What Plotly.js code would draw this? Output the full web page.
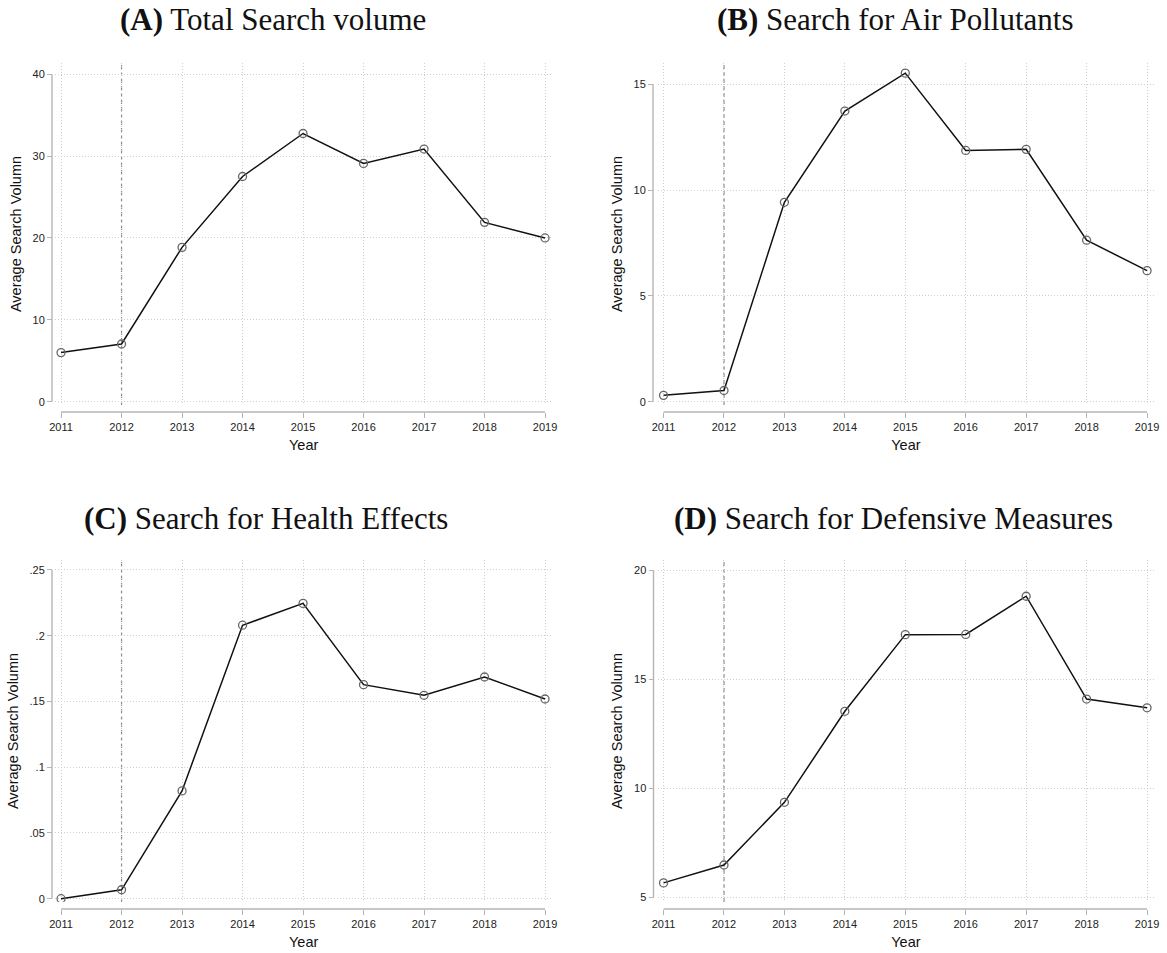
<!DOCTYPE html>
<html>
<head>
<meta charset="utf-8">
<script src="https://cdn.plot.ly/plotly-3.0.1.min.js"></script>
<style>html,body{margin:0;padding:0;background:#fff;}#chart{width:1167px;height:953px;}</style>
</head>
<body>
<div id="chart"></div>
<script>
// ---- data ----
const years = [2011, 2012, 2013, 2014, 2015, 2016, 2017, 2018, 2019];
const totalSearch = [6.0, 7.05, 18.85, 27.5, 32.75, 29.1, 30.85, 21.9, 20.0];
const airPollutants = [0.30, 0.53, 9.42, 13.73, 15.52, 11.87, 11.92, 7.63, 6.19];
const healthEffects = [0.0, 0.0068, 0.082, 0.208, 0.2246, 0.1628, 0.1547, 0.1686, 0.1519];
const defensiveMeasures = [5.67, 6.49, 9.36, 13.53, 17.04, 17.05, 18.80, 14.09, 13.69];
const policyYear = 2012;

const ticksA = [0, 10, 20, 30, 40];
const labelsA = ["0", "10", "20", "30", "40"];
const ticksB = [0, 5, 10, 15];
const labelsB = ["0", "5", "10", "15"];
const ticksC = [0, 0.05, 0.1, 0.15, 0.2, 0.25];
const labelsC = ["0", ".05", ".1", ".15", ".2", ".25"];
const ticksD = [5, 10, 15, 20];
const labelsD = ["5", "10", "15", "20"];

const titles = ["<b>(A)</b> Total Search volume", "<b>(B)</b> Search for Air Pollutants",
                "<b>(C)</b> Search for Health Effects", "<b>(D)</b> Search for Defensive Measures"];
const yTitle = "Average Search Volumn";
const xTitle = "Year";

// ---- layout geometry (pixels) ----
const W = 1167, H = 953;
const px = p => p / W;
const py = p => 1 - p / H;

const panels = [
  {series: totalSearch, ticks: ticksA, labels: labelsA, xd: [55, 552.3], yd: [63, 405], yline: 52, xline: 412, yr: [-0.4, 41.36], titleY: 20, titleX: 273},
  {series: airPollutants, ticks: ticksB, labels: labelsB, xd: [657.5, 1154.3], yd: [63, 405], yline: 653, xline: 412, yr: [-0.156, 16.0], titleX: 895, titleY: 20},
  {series: healthEffects, ticks: ticksC, labels: labelsC, xd: [55, 552.3], yd: [560, 902], yline: 52, xline: 909, yr: [-0.0025, 0.2576], titleX: 266, titleY: 518},
  {series: defensiveMeasures, ticks: ticksD, labels: labelsD, xd: [657.5, 1154.3], yd: [560, 902], yline: 653.5, xline: 909, yr: [4.794, 20.46], titleX: 893, titleY: 518}
];

const gridColor = "#cfcfcf";
const axisColor = "#b5b5b5";
const tickFont = {family: "Liberation Sans, Arial, sans-serif", size: 11, color: "#222"};
const titleFont = {family: "Liberation Sans, Arial, sans-serif", size: 14.5, color: "#111"};

const data = [];
const layout = {
  width: W, height: H,
  margin: {l: 0, r: 0, t: 0, b: 0},
  paper_bgcolor: "#fff", plot_bgcolor: "#fff",
  showlegend: false,
  shapes: [], annotations: []
};

panels.forEach((p, i) => {
  const n = i + 1;
  const xa = "x" + n, ya = "y" + n;
  const xk = n === 1 ? "xaxis" : "xaxis" + n;
  const yk = n === 1 ? "yaxis" : "yaxis" + n;
  data.push({
    type: "scatter", mode: "lines+markers",
    x: years, y: p.series, xaxis: xa, yaxis: ya,
    line: {color: "#111", width: 1.5},
    marker: {symbol: "circle-open", size: 8, color: "#666", line: {width: 1.3, color: "#666"}},
    hoverinfo: "x+y"
  });
  layout[xk] = {
    domain: [px(p.xd[0]), px(p.xd[1])],
    range: [2010.9, 2019.12],
    anchor: "free", position: py(p.xline),
    tickmode: "array", tickvals: years, ticktext: years.map(String),
    ticks: "outside", ticklen: 5, tickcolor: axisColor, tickwidth: 1,
    showline: false, zeroline: false,
    showgrid: true, gridcolor: gridColor, griddash: "1px,2px", gridwidth: 1,
    tickfont: tickFont,
    title: {text: xTitle, font: titleFont, standoff: 7}
  };
  layout[yk] = {
    domain: [py(p.yd[1]), py(p.yd[0])],
    range: p.yr,
    anchor: "free", position: px(p.yline),
    tickmode: "array", tickvals: p.ticks, ticktext: p.labels,
    ticks: "outside", ticklen: 5, tickcolor: axisColor, tickwidth: 1,
    showline: false, zeroline: false,
    showgrid: true, gridcolor: gridColor, griddash: "1px,2px", gridwidth: 1,
    tickfont: tickFont,
    title: {text: yTitle, font: titleFont, standoff: 6}
  };
  // axis lines spanning tick range (Stata style)
  layout.shapes.push({type: "line", xref: xa, yref: "paper",
    x0: years[0], x1: years[years.length - 1], y0: py(p.xline), y1: py(p.xline),
    line: {color: axisColor, width: 1.4}, layer: "above"});
  layout.shapes.push({type: "line", xref: "paper", yref: ya,
    x0: px(p.yline), x1: px(p.yline), y0: p.ticks[0], y1: p.ticks[p.ticks.length - 1],
    line: {color: axisColor, width: 1.4}, layer: "above"});
  // policy year dashed line
  layout.shapes.push({type: "line", xref: xa, yref: ya + " domain",
    x0: policyYear, x1: policyYear, y0: 0, y1: 1,
    line: {color: "#8c8c8c", width: 1.2, dash: "4px,3px"}, layer: "below"});
  // panel title
  layout.annotations.push({text: titles[i], xref: "paper", yref: "paper",
    x: px(p.titleX), y: py(p.titleY), xanchor: "center", yanchor: "middle",
    showarrow: false, font: {family: "Liberation Serif, Times New Roman, serif", size: 31, color: "#111"}});
});

Plotly.newPlot("chart", data, layout, {displayModeBar: false, staticPlot: true});
</script>
</body>
</html>
